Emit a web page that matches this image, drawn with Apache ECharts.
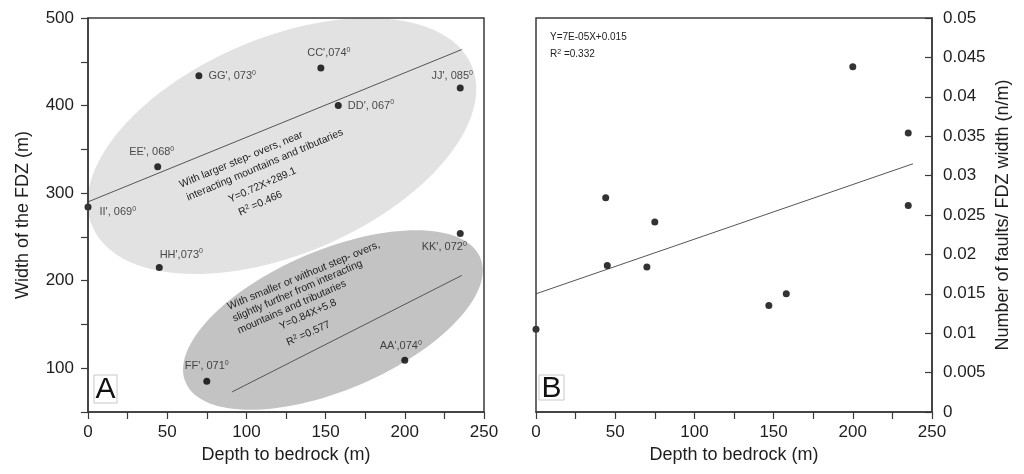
<!DOCTYPE html>
<html>
<head>
<meta charset="utf-8">
<script src="https://cdn.jsdelivr.net/npm/echarts@6/dist/echarts.min.js"></script>
<style>
  html, body { margin: 0; padding: 0; background: #fff; }
  #chart { width: 1024px; height: 474px; }
</style>
</head>
<body>
<div id="chart"></div>
<script>
const FONT = '"Liberation Sans", Arial, sans-serif'
const INK = '#1e1e1e'

// panel A: width of the FDZ against depth to bedrock
const sectionNames = ["GG', 073", "CC',074", "DD', 067", "JJ', 085", "EE', 068", "II', 069", "HH',073", "KK', 072", "FF', 071", "AA',074"]
const depthA = [70, 147, 158, 235, 44, 0, 45, 235, 75, 200]
const widthA = [434, 443, 400, 420, 330, 284, 215, 254, 85, 109]
const trendUpper = [[0, 290], [236, 464]]
const trendLower = [[91, 73], [236, 206]]

// panel B: number of faults per FDZ width
const depthB = [0, 44, 45, 70, 75, 147, 158, 200, 235, 235]
const densityB = [0.0105, 0.0272, 0.0186, 0.0184, 0.0241, 0.0135, 0.0150, 0.0438, 0.0354, 0.0262]
const trendB = [[0, 0.015], [238, 0.0315]]

// where each section label sits round its dot
const labelPlace = [
  { position: 'right', distance: 6, offset: [0, 0] },
  { position: 'top', distance: 5, offset: [8, 0] },
  { position: 'right', distance: 6, offset: [0, 0] },
  { position: 'top', distance: 5, offset: [-8, 3] },
  { position: 'top', distance: 5, offset: [-6, 0] },
  { position: 'right', distance: 8, offset: [0, 5] },
  { position: 'top', distance: 5, offset: [22, 2] },
  { position: 'bottom', distance: 4, offset: [-16, 0] },
  { position: 'top', distance: 5, offset: [0, 0] },
  { position: 'top', distance: 5, offset: [-4, 1] }
]

const rad = (d) => (d * Math.PI) / 180

const tickLabel = { fontSize: 17, color: INK, fontFamily: FONT }
const axisLine = { onZero: false, lineStyle: { color: '#3a3a3a', width: 1.5 } }
const axisTick = { length: 7, lineStyle: { color: '#3a3a3a', width: 1.2 } }
const nameStyle = { fontSize: 18, color: INK, fontFamily: FONT }

// rotated note, anchored at the start of the line
const noteText = (text, x, y, deg, size = 10.5) => ({
  type: 'text',
  x,
  y,
  rotation: rad(deg),
  z: 10,
  style: {
    text,
    fill: '#222',
    font: `${size}px ${FONT}`,
    align: 'left',
    verticalAlign: 'middle',
    rich: {
      s: { fontSize: 7, verticalAlign: 'top', fill: '#222', fontFamily: FONT }
    }
  }
})

const panelTag = (letter, x, y, w, h) => [
  { type: 'rect', shape: { x, y, width: w, height: h }, z: 10, style: { fill: '#fff', stroke: '#c8c8c8', lineWidth: 1 } },
  { type: 'text', x: x + w / 2, y: y + h / 2 + 1, z: 11, style: { text: letter, font: `30px ${FONT}`, fill: '#111', align: 'center', verticalAlign: 'middle' } }
]

const chart = echarts.init(document.getElementById('chart'))

const option = {
  animation: false,
  backgroundColor: '#fff',
  grid: [
    { left: 88, top: 18, width: 396, height: 394, show: true, borderColor: '#3a3a3a', borderWidth: 1.5, z: 5 },
    { left: 536, top: 18, width: 396, height: 394, show: true, borderColor: '#3a3a3a', borderWidth: 1.5, z: 5 }
  ],
  xAxis: [0, 1].map((i) => ({
    type: 'value',
    gridIndex: i,
    min: 0,
    max: 250,
    interval: 25,
    z: 6,
    name: 'Depth to bedrock (m)',
    nameLocation: 'middle',
    nameGap: 31,
    nameTextStyle: nameStyle,
    axisLine,
    axisTick,
    splitLine: { show: false },
    axisLabel: { ...tickLabel, margin: 12, formatter: (v) => (v % 50 === 0 ? String(v) : '') }
  })),
  yAxis: [
    {
      type: 'value',
      gridIndex: 0,
      min: 50,
      max: 500,
      interval: 50,
      z: 6,
      name: 'Width of the FDZ (m)',
      nameLocation: 'middle',
      nameRotate: 90,
      nameGap: 56,
      nameTextStyle: nameStyle,
      axisLine,
      axisTick,
      splitLine: { show: false },
      axisLabel: { ...tickLabel, margin: 14, formatter: (v) => (v % 100 === 0 ? String(v) : '') }
    },
    {
      type: 'value',
      gridIndex: 1,
      position: 'right',
      min: 0,
      max: 0.05,
      interval: 0.005,
      z: 6,
      name: 'Number of faults/ FDZ width (n/m)',
      nameLocation: 'middle',
      nameRotate: 90,
      nameGap: 62,
      nameTextStyle: nameStyle,
      axisLine,
      axisTick: { ...axisTick, inside: true },
      splitLine: { show: false },
      axisLabel: { ...tickLabel, margin: 11 }
    }
  ],
  series: [
    {
      type: 'line',
      xAxisIndex: 0,
      yAxisIndex: 0,
      data: trendUpper,
      symbol: 'none',
      silent: true,
      lineStyle: { color: '#555', width: 1 }
    },
    {
      type: 'line',
      xAxisIndex: 0,
      yAxisIndex: 0,
      data: trendLower,
      symbol: 'none',
      silent: true,
      lineStyle: { color: '#555', width: 1 }
    },
    {
      type: 'scatter',
      xAxisIndex: 0,
      yAxisIndex: 0,
      symbolSize: 7,
      z: 4,
      itemStyle: { color: '#000' },
      data: depthA.map((d, i) => ({
        value: [d, widthA[i]],
        label: {
          show: true,
          position: labelPlace[i].position,
          distance: labelPlace[i].distance,
          offset: labelPlace[i].offset,
          formatter: `{n|${sectionNames[i]}}{d|0}`,
          rich: {
            n: { fontSize: 11, color: '#222', fontFamily: FONT, lineHeight: 13 },
            d: { fontSize: 7, color: '#222', fontFamily: FONT, verticalAlign: 'top', lineHeight: 13 }
          }
        }
      }))
    },
    {
      type: 'line',
      xAxisIndex: 1,
      yAxisIndex: 1,
      data: trendB,
      symbol: 'none',
      silent: true,
      lineStyle: { color: '#555', width: 1 }
    },
    {
      type: 'scatter',
      xAxisIndex: 1,
      yAxisIndex: 1,
      symbolSize: 7,
      z: 4,
      itemStyle: { color: '#000' },
      data: depthB.map((d, i) => [d, densityB[i]])
    }
  ],
  graphic: [
    // grouping ellipses behind the points
    { type: 'ellipse', x: 282, y: 146, rotation: rad(23), z: 1, shape: { cx: 0, cy: 0, rx: 206, ry: 108 }, style: { fill: '#e2e2e2' } },
    { type: 'ellipse', x: 333, y: 320, rotation: rad(23), z: 1, shape: { cx: 0, cy: 0, rx: 160, ry: 70 }, style: { fill: '#c3c3c3' } },

    noteText('With larger step- overs, near', 180, 185, 22.5),
    noteText('interacting mountains and tributaries', 187, 198, 23),
    noteText('Y=0.72X+289.1', 229, 200, 24),
    noteText('R{s|2} =0.466', 239, 213, 24),

    noteText('With smaller or without step- overs,', 228, 307, 22.5),
    noteText('slightly further from interacting', 233, 319, 23.5),
    noteText('mountains and tributaries', 238, 331, 24),
    noteText('Y=0.84X+5.8', 280, 327, 24),
    noteText('R{s|2} =0.577', 287, 343, 24),

    {
      type: 'text', x: 550, y: 37, z: 10,
      style: { text: 'Y=7E-05X+0.015', font: `10px ${FONT}`, fill: '#222', verticalAlign: 'middle' }
    },
    {
      type: 'text', x: 550, y: 54, z: 10,
      style: {
        text: 'R{s|2} =0.332', font: `10px ${FONT}`, fill: '#222', verticalAlign: 'middle',
        rich: { s: { fontSize: 7, verticalAlign: 'top', fill: '#222', fontFamily: FONT } }
      }
    },

    ...panelTag('A', 94, 375, 23, 28),
    ...panelTag('B', 539, 375, 25, 25)
  ]
}

chart.setOption(option)
</script>
</body>
</html>
